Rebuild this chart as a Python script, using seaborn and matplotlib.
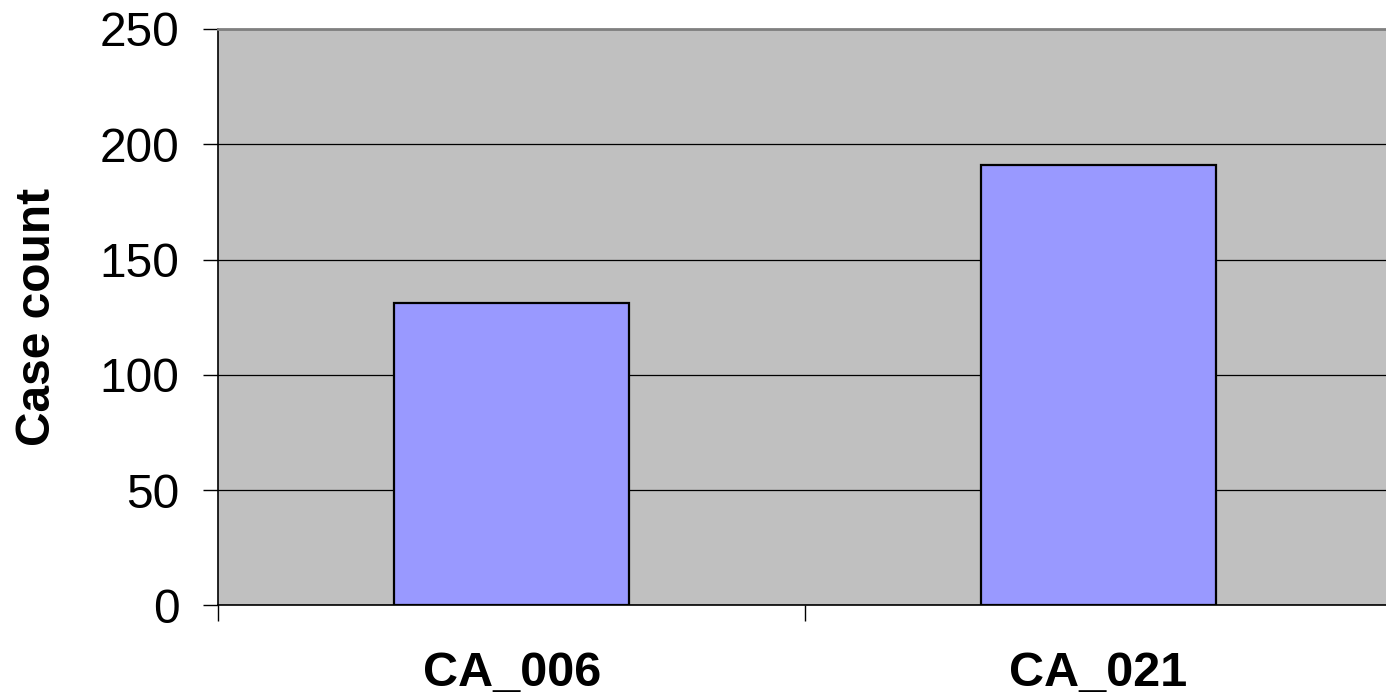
import matplotlib
matplotlib.use("Agg")
import matplotlib.pyplot as plt
import seaborn as sns
import pandas as pd

# Case counts per site
categories = ["CA_006", "CA_021"]
case_counts = [131, 191]
y_ticks = [0, 50, 100, 150, 200, 250]

sns.set_theme(style="white")
plt.rcParams["font.family"] = ["Liberation Sans", "DejaVu Sans"]
plt.rcParams["text.color"] = "black"
plt.rcParams["axes.labelcolor"] = "black"
plt.rcParams["xtick.color"] = "black"
plt.rcParams["ytick.color"] = "black"

df = pd.DataFrame({"site": categories, "count": case_counts})

fig = plt.figure(figsize=(13.86, 6.99), dpi=100)
ax = fig.add_axes([218.3 / 1386, 93.7 / 699, 1173.4 / 1386, 576.3 / 699])
ax.set_facecolor("#C0C0C0")

sns.barplot(data=df, x="site", y="count", order=categories, color="#9999FF",
            saturation=1, width=0.4, edgecolor="black", linewidth=1.6, ax=ax,
            zorder=3)

ax.set_xlim(-0.5, 1.5)
ax.set_ylim(0, 250)
ax.set_yticks(y_ticks)
ax.yaxis.grid(True, color="black", linewidth=0.9, zorder=1)
ax.set_axisbelow(True)

# Tick marks sit between categories; labels sit under each category
ax.set_xticks([-0.5, 0.5, 1.5], minor=True)
ax.tick_params(axis="x", which="minor", direction="out", length=11.5,
               width=1.0, color="black", bottom=True)
ax.tick_params(axis="x", which="major", length=0, pad=33, labelsize=35,
               labelcolor="black")
for lbl in ax.get_xticklabels():
    lbl.set_fontweight("bold")
ax.tick_params(axis="y", which="major", direction="out", length=10.8,
               width=1.0, color="black", left=True, pad=17, labelsize=34.5,
               labelcolor="black")

ax.set_xlabel("")
ax.set_ylabel("Case count", fontsize=34.5, fontweight="bold", labelpad=28.5,
              color="black")

for side in ["left", "bottom"]:
    ax.spines[side].set_color("black")
    ax.spines[side].set_linewidth(1.2)
ax.spines["top"].set_color("#808080")
ax.spines["top"].set_linewidth(2.0)
ax.spines["right"].set_visible(False)

fig.savefig("out.png", dpi=100, facecolor="white")
